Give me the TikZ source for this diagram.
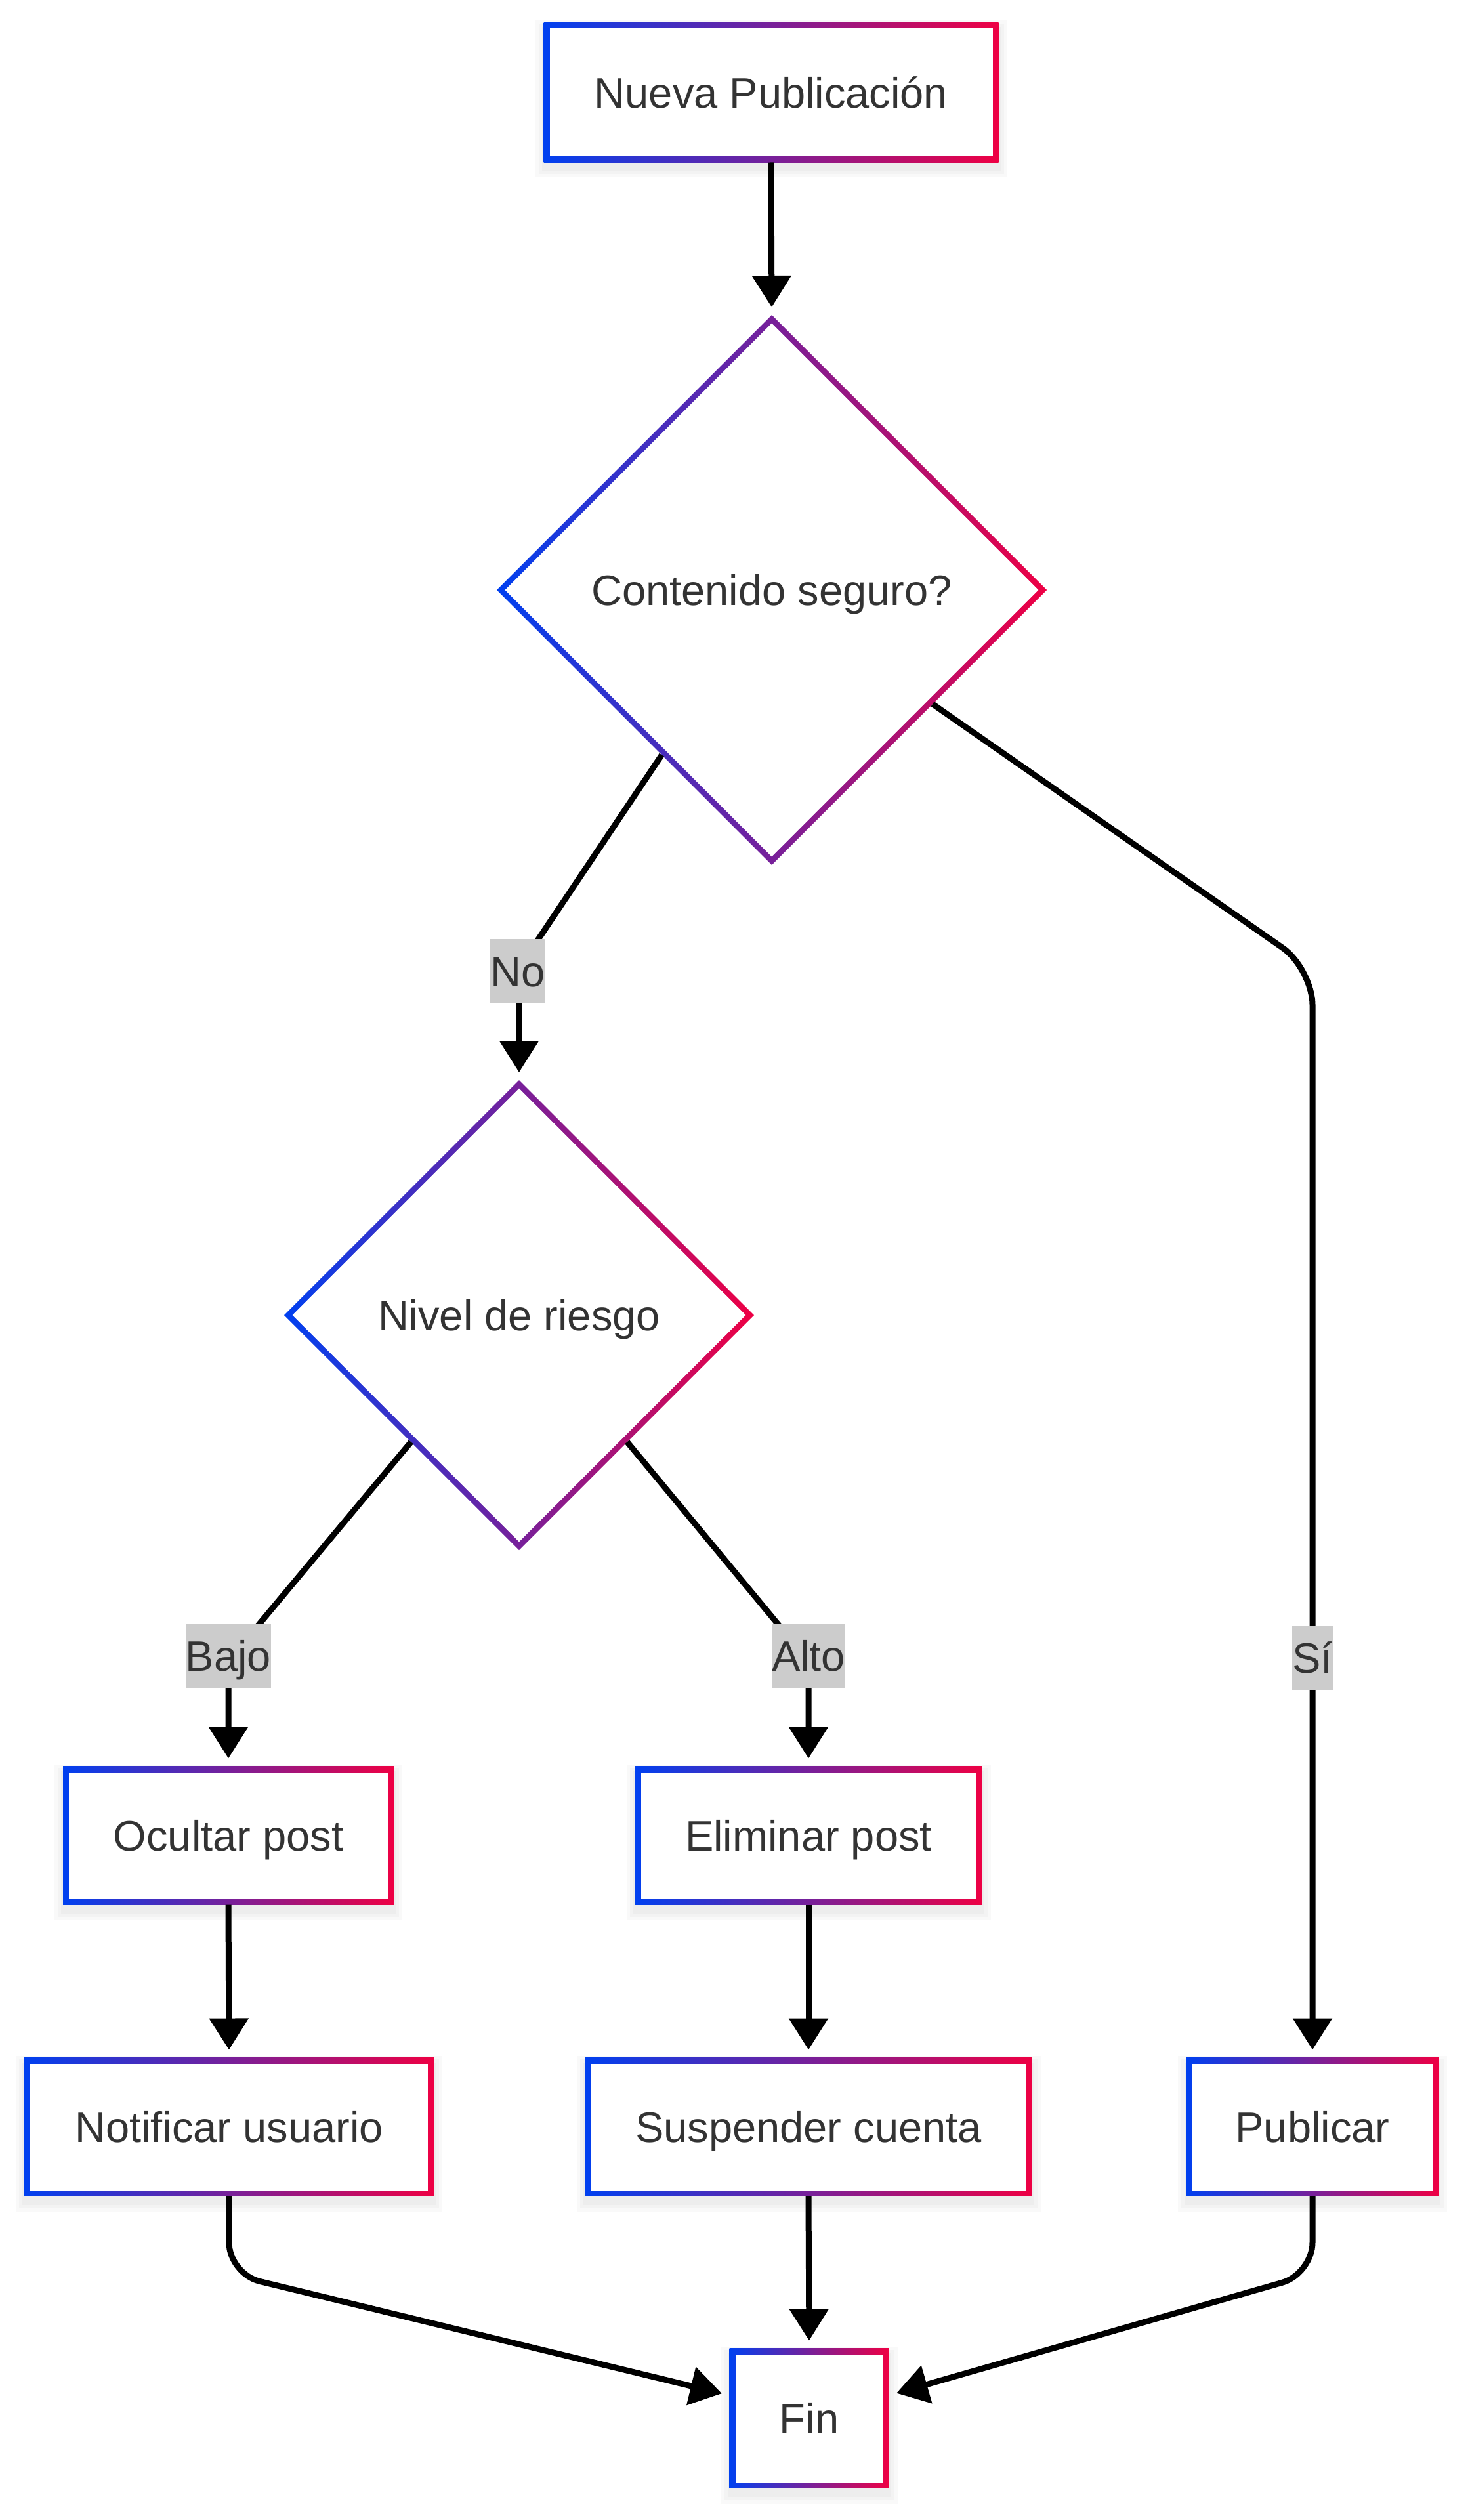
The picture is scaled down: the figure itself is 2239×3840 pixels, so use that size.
\documentclass[tikz,border=0pt]{standalone}
\usepackage{fontspec}
\setmainfont{Liberation Sans}
\usetikzlibrary{arrows.meta,calc}
\definecolor{gblue}{RGB}{0,64,240}
\definecolor{gred}{RGB}{238,0,68}
\definecolor{txtc}{RGB}{51,51,51}
\definecolor{lblc}{RGB}{204,204,204}
\newcommand{\mkbox}[6]{%
  \foreach \s in {3,8,13}{\fill[black,opacity=0.025] (#2-#4/2-\s,#3-#5/2-\s+10) rectangle (#2+#4/2+\s,#3+#5/2+\s+10);}
  \shade[left color=gblue,right color=gred] (#2-#4/2,#3-#5/2) rectangle (#2+#4/2,#3+#5/2);
  \fill[white] (#2-#4/2+9,#3-#5/2+9) rectangle (#2+#4/2-9,#3+#5/2-9);
  \node[txt, minimum width=#4*0.25pt, minimum height=#5*0.25pt] (#1) at (#2,#3) {#6};
}
\newcommand{\mkdiam}[5]{%
  \shade[left color=gblue,right color=gred] (#2-#4,#3) -- (#2,#3-#4) -- (#2+#4,#3) -- (#2,#3+#4) -- cycle;
  \fill[white] (#2-#4+12.7,#3) -- (#2,#3-#4+12.7) -- (#2+#4-12.7,#3) -- (#2,#3+#4-12.7) -- cycle;
  \coordinate (#1w) at (#2-#4,#3);
  \coordinate (#1n) at (#2,#3-#4);
  \coordinate (#1e) at (#2+#4,#3);
  \coordinate (#1s) at (#2,#3+#4);
  \node[txt] (#1) at (#2,#3) {#5};
}
\begin{document}
\begin{tikzpicture}[x=0.25pt,y=-0.25pt,
  txt/.style={inner sep=0pt, outer sep=0pt, text=txtc, text height=11.6pt, text depth=0pt, font=\fontsize{16.25}{19}\selectfont},
  lbl/.style={fill=lblc, inner xsep=0pt, inner ysep=0pt, minimum height=24.5pt, text height=11.6pt, text depth=0pt, text=txtc, font=\fontsize{16.25}{19}\selectfont},
  conn/.style={line width=2.25pt, draw=black, -{Triangle[length=12pt,width=14.5pt]}, shorten >=3pt}
]
\fill[white] (0,0) rectangle (2239,3840);
\useasboundingbox (0,0) rectangle (2239,3840);

\mkbox{n1}{1175}{141}{693}{213}{Nueva Publicación}
\mkdiam{D1}{1176}{899}{419}{Contenido seguro?}
\mkdiam{D2}{791}{2004}{358}{Nivel de riesgo}
\mkbox{oc}{348}{2797}{504}{211}{Ocultar post}
\mkbox{el}{1232}{2797}{529}{211}{Eliminar post}
\mkbox{no}{349}{3241}{624}{211}{Notificar usuario}
\mkbox{su}{1232}{3241}{681}{211}{Suspender cuenta}
\mkbox{pu}{2000}{3241}{384}{211}{Publicar}
\mkbox{fin}{1233}{3685}{243}{213}{Fin}

\coordinate (noS) at ($(D1w)!0.6!(D1s)$);
\coordinate (noC) at (791,1475);
\coordinate (siS) at ($(D1e)!0.415!(D1s)$);
\coordinate (siC) at (2000,1476);
\coordinate (baS) at ($(D2w)!0.54!(D2s)$);
\coordinate (baC) at (348,2531);
\coordinate (alS) at ($(D2e)!0.54!(D2s)$);
\coordinate (alC) at (1232,2531);
\coordinate (nfC) at (349,3465);
\coordinate (pfC) at (2000,3465);

\draw[conn] (n1.south) -- (D1n);
\draw[conn, rounded corners=10pt] (noS) -- (noC) -- (D2n);
\draw[conn, rounded corners=14pt] (siS) -- (siC) -- (pu.north);
\draw[conn, rounded corners=10pt] (baS) -- (baC) -- (oc.north);
\draw[conn, rounded corners=10pt] (alS) -- (alC) -- (el.north);
\draw[conn] (oc.south) -- (no.north);
\draw[conn] (el.south) -- (su.north);
\draw[conn] (su.south) -- (fin.north);
\draw[conn, rounded corners=12pt] (no.south) -- (nfC) -- ($(fin.west)+(0,8.75pt)$);
\draw[conn, rounded corners=12pt] (pu.south) -- (pfC) -- ($(fin.east)+(0,8.75pt)$);

\node[lbl] (lno) at (789,1480) {No};
\node[lbl] (lsi) at (2000,2526) {Sí};
\node[lbl] (lba) at (348,2523) {Bajo};
\node[lbl] (lal) at (1232,2523) {Alto};
\end{tikzpicture}
\end{document}
